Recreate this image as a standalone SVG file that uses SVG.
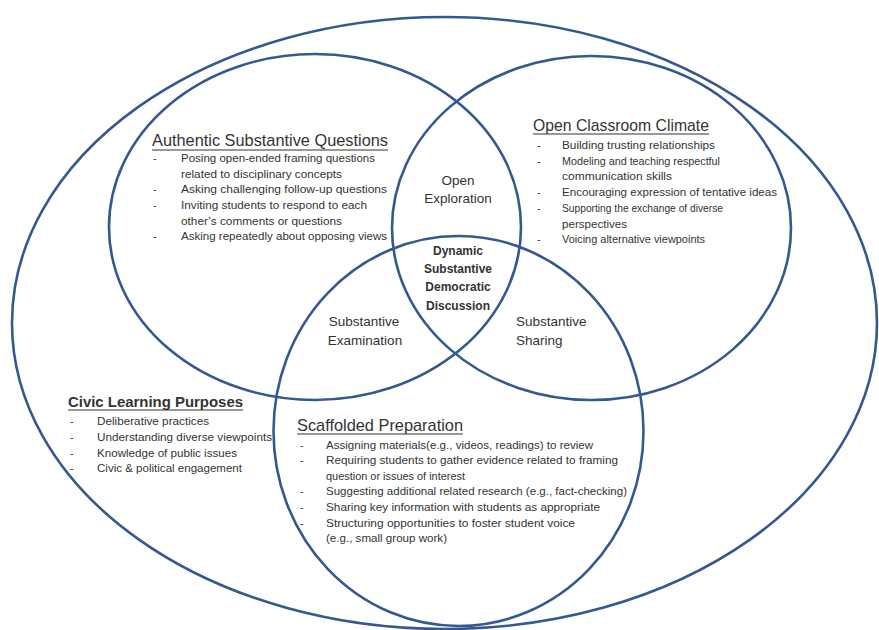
<svg xmlns="http://www.w3.org/2000/svg" width="879" height="630" viewBox="0 0 879 630">
<style>
.ring{fill:none;stroke:#34598f;stroke-width:2.6}
text{font-family:"Liberation Sans",Arial,sans-serif;fill:#333}
.t{font-size:17px}
.tb{font-size:15px;font-weight:bold}
.b{font-size:11px}
.c{font-size:13.5px;text-anchor:middle}
.cl{font-size:13.5px}
.d{font-size:12px;font-weight:bold;text-anchor:middle}
.u{stroke:#333;stroke-width:1}
</style>
<rect width="879" height="630" fill="#fff"/>
<g id="connectors"></g>
<g id="civic-learning-purposes">
<ellipse class="ring" cx="444.5" cy="323" rx="432.5" ry="306"/>
<text class="tb" x="68" y="407" textLength="175" lengthAdjust="spacingAndGlyphs">Civic Learning Purposes</text>
<line class="u" x1="68" y1="410" x2="243" y2="410"/>
<text class="b" x="70" y="425">-</text><text class="b" x="97" y="425" textLength="112" lengthAdjust="spacingAndGlyphs">Deliberative practices</text>
<text class="b" x="70" y="441">-</text><text class="b" x="97" y="441" textLength="175" lengthAdjust="spacingAndGlyphs">Understanding diverse viewpoints</text>
<text class="b" x="70" y="457">-</text><text class="b" x="97" y="457" textLength="140" lengthAdjust="spacingAndGlyphs">Knowledge of public issues</text>
<text class="b" x="70" y="472">-</text><text class="b" x="97" y="472" textLength="145" lengthAdjust="spacingAndGlyphs">Civic &amp; political engagement</text>
</g>
<g id="authentic-substantive-questions">
<ellipse class="ring" cx="315" cy="227" rx="206" ry="173"/>
<text class="t" x="152" y="146" textLength="236" lengthAdjust="spacingAndGlyphs">Authentic Substantive Questions</text>
<line class="u" x1="152" y1="150" x2="388" y2="150"/>
<text class="b" x="153" y="162">-</text><text class="b" x="181" y="162" textLength="194" lengthAdjust="spacingAndGlyphs">Posing open-ended framing questions</text>
<text class="b" x="181" y="178" textLength="161" lengthAdjust="spacingAndGlyphs">related to disciplinary concepts</text>
<text class="b" x="153" y="193">-</text><text class="b" x="181" y="193" textLength="206" lengthAdjust="spacingAndGlyphs">Asking challenging follow-up questions</text>
<text class="b" x="153" y="209">-</text><text class="b" x="181" y="209" textLength="186" lengthAdjust="spacingAndGlyphs">Inviting students to respond to each</text>
<text class="b" x="181" y="225" textLength="161" lengthAdjust="spacingAndGlyphs">other’s comments or questions</text>
<text class="b" x="153" y="240">-</text><text class="b" x="181" y="240" textLength="206" lengthAdjust="spacingAndGlyphs">Asking repeatedly about opposing views</text>
</g>
<g id="open-classroom-climate">
<ellipse class="ring" cx="591.5" cy="228" rx="199.5" ry="172"/>
<text class="t" x="533" y="131" textLength="176" lengthAdjust="spacingAndGlyphs">Open Classroom Climate</text>
<line class="u" x1="533" y1="134" x2="709" y2="134"/>
<text class="b" x="537" y="149">-</text><text class="b" x="562" y="149" textLength="153" lengthAdjust="spacingAndGlyphs">Building trusting relationships</text>
<text class="b" x="537" y="165">-</text><text class="b" x="562" y="165" textLength="158" lengthAdjust="spacingAndGlyphs">Modeling and teaching respectful</text>
<text class="b" x="562" y="180" textLength="110" lengthAdjust="spacingAndGlyphs">communication skills</text>
<text class="b" x="537" y="196">-</text><text class="b" x="562" y="196" textLength="215" lengthAdjust="spacingAndGlyphs">Encouraging expression of tentative ideas</text>
<text class="b" x="537" y="212">-</text><text class="b" x="562" y="212" textLength="161" lengthAdjust="spacingAndGlyphs">Supporting the exchange of diverse</text>
<text class="b" x="562" y="228" textLength="65" lengthAdjust="spacingAndGlyphs">perspectives</text>
<text class="b" x="537" y="243">-</text><text class="b" x="562" y="243" textLength="143" lengthAdjust="spacingAndGlyphs">Voicing alternative viewpoints</text>
</g>
<g id="scaffolded-preparation">
<ellipse class="ring" cx="458.5" cy="431" rx="185" ry="195"/>
<text class="t" x="297" y="431" textLength="166" lengthAdjust="spacingAndGlyphs">Scaffolded Preparation</text>
<line class="u" x1="297" y1="434" x2="463" y2="434"/>
<text class="b" x="300" y="449">-</text><text class="b" x="326" y="449" textLength="267" lengthAdjust="spacingAndGlyphs">Assigning materials(e.g., videos, readings) to review</text>
<text class="b" x="300" y="464">-</text><text class="b" x="326" y="464" textLength="292" lengthAdjust="spacingAndGlyphs">Requiring students to gather evidence related to framing</text>
<text class="b" x="326" y="480" textLength="139" lengthAdjust="spacingAndGlyphs">question or issues of interest</text>
<text class="b" x="300" y="495">-</text><text class="b" x="326" y="495" textLength="301" lengthAdjust="spacingAndGlyphs">Suggesting additional related research (e.g., fact-checking)</text>
<text class="b" x="300" y="511">-</text><text class="b" x="326" y="511" textLength="274" lengthAdjust="spacingAndGlyphs">Sharing key information with students as appropriate</text>
<text class="b" x="300" y="527">-</text><text class="b" x="326" y="527" textLength="249" lengthAdjust="spacingAndGlyphs">Structuring opportunities to foster student voice</text>
<text class="b" x="326" y="542" textLength="121" lengthAdjust="spacingAndGlyphs">(e.g., small group work)</text>
</g>
<g id="open-exploration">
<text class="c" x="458" y="185">Open</text>
<text class="c" x="458" y="203">Exploration</text>
</g>
<g id="dynamic-discussion">
<text class="d" x="458" y="255">Dynamic</text>
<text class="d" x="458" y="273">Substantive</text>
<text class="d" x="458" y="291">Democratic</text>
<text class="d" x="458" y="310">Discussion</text>
</g>
<g id="substantive-examination">
<text class="c" x="364" y="326">Substantive</text>
<text class="c" x="365" y="345">Examination</text>
</g>
<g id="substantive-sharing">
<text class="cl" x="516" y="326">Substantive</text>
<text class="cl" x="516" y="345">Sharing</text>
</g>
</svg>
